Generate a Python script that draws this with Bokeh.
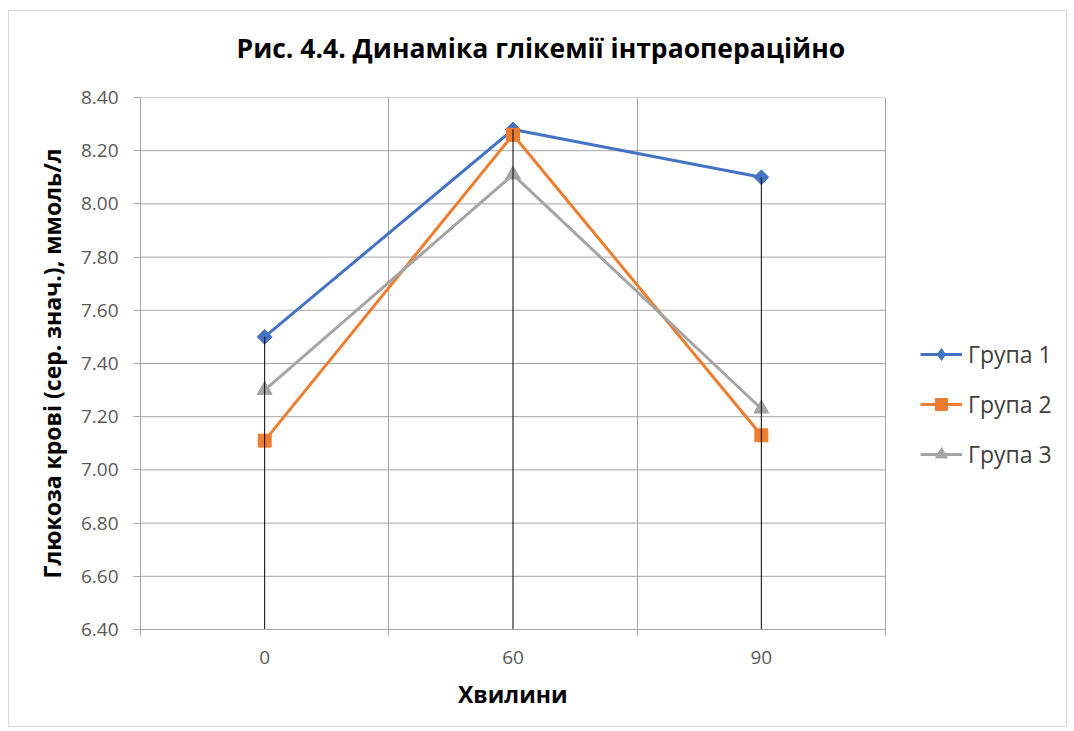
import math
from bokeh.plotting import figure
from bokeh.models import (Range1d, FixedTicker, Legend, LegendItem, Title, PrintfTickFormatter)
from bokeh.embed import file_html
from bokeh.resources import INLINE

# Intra-operative blood glucose, mean values (mmol/l)
minutes = ["0", "60", "90"]
group1 = [7.50, 8.28, 8.10]
group2 = [7.11, 8.26, 7.13]
group3 = [7.30, 8.11, 7.23]
series_names = ["Група 1", "Група 2", "Група 3"]
y_ticks = [6.40, 6.60, 6.80, 7.00, 7.20, 7.40, 7.60, 7.80, 8.00, 8.20, 8.40]

title_text = "Рис. 4.4. Динаміка глікемії інтраопераційно"
x_title = "Хвилини"
y_title = "Глюкоза крові (сер. знач.), ммоль/л"

FONT = "Open Sans"
GRID = "#a6a6a6"
colors = ["#4472C4", "#ED7D31", "#A5A5A5"]

# layout: the canvas frame also holds the legend strip to the right of the plot area
PLOT_W, FRAME_W = 745, 920

y_lo, y_hi = y_ticks[0], y_ticks[-1]
n = len(minutes)
# each category occupies one unit slot; points sit in the slot centres
xs = [i + 0.5 for i in range(n)]
slot_edges = list(range(n + 1))

p = figure(width=1059, height=717, output_backend="svg", toolbar_location=None,
           x_range=Range1d(0, n * FRAME_W / PLOT_W), y_range=Range1d(y_lo, y_hi),
           min_border_left=131, min_border_right=1059 - 131 - FRAME_W,
           min_border_top=86, min_border_bottom=99)
p.styles = {"margin-left": "8px", "margin-top": "10px", "border": "1px solid #d9d9d9"}
p.outline_line_color = None
p.background_fill_color = "white"
p.border_fill_color = "white"

p.add_layout(Title(text=title_text, align="left", offset=96, standoff=0,
                   padding={"left": 0, "right": 0, "top": 0, "bottom": 32},
                   text_font=FONT, text_font_size="26.5px", text_font_style="bold",
                   text_color="#000000"), "above")

xa = p.xaxis[0]
xa.bounds = (0, n)
xa.ticker = FixedTicker(ticks=xs, minor_ticks=slot_edges)
xa.major_label_overrides = {x: m for x, m in zip(xs, minutes)}
xa.axis_line_color = GRID
xa.major_tick_line_color = None
xa.major_tick_in = 0
xa.major_tick_out = 0
xa.minor_tick_line_color = GRID
xa.minor_tick_in = 0
xa.minor_tick_out = 6
xa.major_label_standoff = 15
xa.major_label_text_font = FONT
xa.major_label_text_font_size = "19px"
xa.major_label_text_color = "#595959"
p.xgrid.ticker = FixedTicker(ticks=slot_edges)
p.xgrid.grid_line_color = GRID
p.xgrid.grid_line_width = 1

# x-axis title, centred under the plot area (not the legend strip)
p.add_layout(Title(text=x_title, align="left", offset=PLOT_W / 2 - 55, standoff=19,
                   text_font=FONT, text_font_size="23px", text_font_style="bold",
                   text_color="#000000"), "below")

ya = p.yaxis[0]
ya.ticker = FixedTicker(ticks=y_ticks)
ya.formatter = PrintfTickFormatter(format="%.2f")
ya.axis_line_color = GRID
ya.major_tick_line_color = GRID
ya.major_tick_in = 0
ya.major_tick_out = 7
ya.minor_tick_line_color = None
ya.major_label_standoff = 15
ya.major_label_text_font = FONT
ya.major_label_text_font_size = "19px"
ya.major_label_text_color = "#595959"
ya.axis_label = y_title
ya.axis_label_standoff = 10
ya.axis_label_text_font = FONT
ya.axis_label_text_font_size = "23px"
ya.axis_label_text_font_style = "bold"
ya.axis_label_text_color = "#000000"
p.ygrid.visible = False

# horizontal gridlines limited to the plot area
p.segment(x0=[0] * len(y_ticks), y0=y_ticks, x1=[n] * len(y_ticks), y1=y_ticks,
          line_color=GRID, line_width=1)

# series: line + markers; group 1 markers are squares turned 45 degrees (diamonds)
items = []
markers = ["square", "square", "triangle"]
legend_markers = ["diamond", "square", "triangle"]
sizes = [10.5, 13, 15]
angles = [math.pi / 4, 0, 0]
for vals, name, col, mk, lmk, sz, ang in zip([group1, group2, group3], series_names, colors,
                                             markers, legend_markers, sizes, angles):
    ln = p.line(xs, vals, line_color=col, line_width=3)
    p.scatter(xs, vals, marker=mk, size=sz, angle=ang, fill_color=col, line_color=col)
    # hidden twin that only supplies the legend swatch marker
    key = p.scatter(xs, vals, marker=lmk, size=sz, fill_color=col, line_color=col, visible=False)
    items.append(LegendItem(label=name, renderers=[ln, key]))

# drop lines from the highest point of each category to the axis
tops = [max(v) for v in zip(group1, group2, group3)]
p.segment(x0=xs, y0=tops, x1=xs, y1=[y_lo] * n, line_color="#000000", line_width=1)

legend = Legend(items=items, location=(PLOT_W + 35, 159), orientation="vertical",
                label_text_font=FONT, label_text_font_size="23px", label_text_color="#404040",
                glyph_width=42, glyph_height=30, label_height=30, label_standoff=6,
                spacing=18, padding=0, margin=0,
                border_line_color=None, background_fill_alpha=0)
p.add_layout(legend)

open("out.html", "w").write(file_html(p, INLINE))
